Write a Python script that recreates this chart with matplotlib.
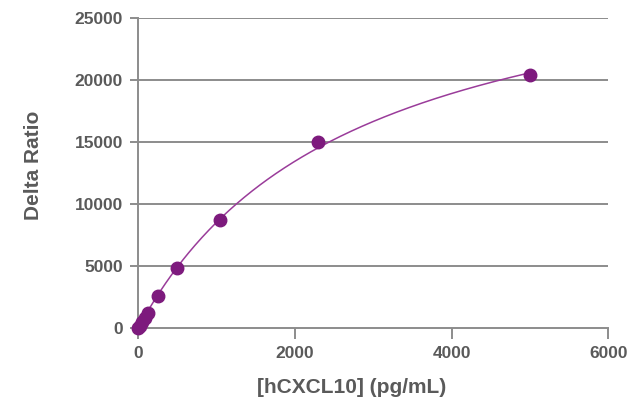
import numpy as np
import matplotlib
matplotlib.use("Agg")
import matplotlib.pyplot as plt

# Standard curve
conc = [0, 25, 50, 90, 127, 255, 500, 1050, 2300, 5000]
ratio = [0, 160, 480, 800, 1210, 2580, 4840, 8700, 15000, 20400]

x_ticks = [0, 2000, 4000, 6000]
y_ticks = [0, 5000, 10000, 15000, 20000, 25000]

grey = "#5a5a5a"
line_grey = "#8c8c8c"
purple = "#7d1a7d"
curve_purple = "#9a3c9a"

plt.rcParams['font.family'] = ['Liberation Sans', 'DejaVu Sans']

# saturating fit y = vmax*x/(k+x): grid over k, vmax by least squares
xs = np.array(conc, float)
ys = np.array(ratio, float)
best = None
for k in np.linspace(200, 20000, 2000):
    g = xs / (k + xs)
    vmax = (g @ ys) / (g @ g)
    err = ((vmax * g - ys) ** 2).sum()
    if best is None or err < best[0]:
        best = (err, k, vmax)
_, k_fit, vmax_fit = best
xf = np.linspace(0, max(conc), 400)
yf = vmax_fit * xf / (k_fit + xf)

fig = plt.figure(figsize=(6.31, 4.03), dpi=100)
ax = fig.add_axes([0.219, 0.186, 0.745, 0.769])

for yt in y_ticks[1:]:
    ax.axhline(yt, color=line_grey, lw=1.4, zorder=1)

ax.plot(xf, yf, color=curve_purple, lw=1.1, zorder=2)
ax.plot(conc, ratio, 'o', color=purple, ms=9, zorder=3, clip_on=False)

ax.set_xlim(0, 6000)
ax.set_ylim(0, 25000)
ax.set_xticks(x_ticks)
ax.set_yticks(y_ticks)

for s in ['top', 'right']:
    ax.spines[s].set_visible(False)
for s in ['left', 'bottom']:
    ax.spines[s].set_color(line_grey)
    ax.spines[s].set_linewidth(1.4)

ax.tick_params(axis='y', length=6, pad=5)
ax.tick_params(axis='x', length=8, pad=5)
ax.tick_params(axis='both', colors=line_grey, width=1.4,
               labelcolor=grey, labelsize=12.5)
for lab in ax.get_xticklabels() + ax.get_yticklabels():
    lab.set_fontweight('bold')

ax.set_xlabel("[hCXCL10] (pg/mL)", fontsize=15, fontweight='bold', color=grey)
ax.set_ylabel("Delta Ratio", fontsize=15, fontweight='bold', color=grey)
ax.xaxis.set_label_coords(0.453, -0.161)
ax.yaxis.set_label_coords(-0.202, 0.526)

fig.savefig("out.png", dpi=100, facecolor="white")
